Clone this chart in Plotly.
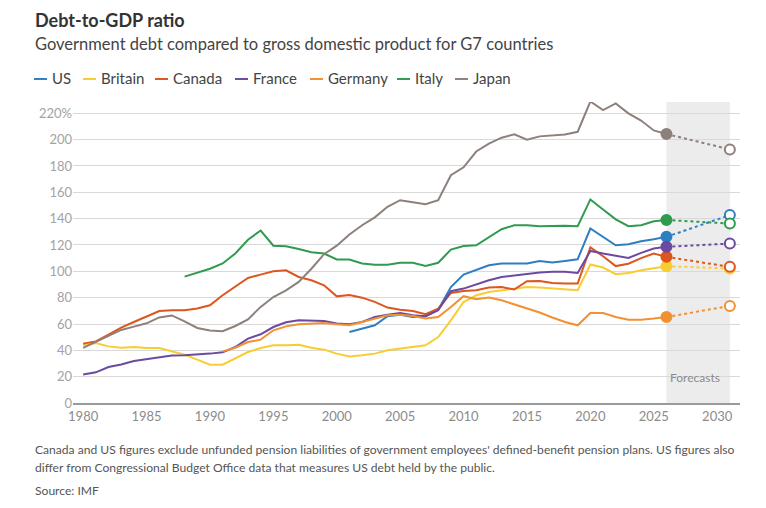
import plotly.graph_objects as go

# debt-to-GDP, % (IMF)
countries = ['US', 'Britain', 'Canada', 'France', 'Germany', 'Italy', 'Japan']
colors = ['#2f7ec1', '#f8cd32', '#dc561f', '#6b4aa0', '#f19132', '#2f9b4f', '#8e807a']

us_start = 2001
us = [53.9, 56.5, 59, 65.9, 67.1, 65.3, 65.9, 70.9, 88.1, 97.5, 101.3, 104.6, 105.9,
      105.9, 105.9, 107.9, 106.7, 107.9, 109.2, 132.5, 126.2, 119.8, 120.6, 122.9, 124.4, 126.2]

britain_start = 1980
britain = [43.8, 45.6, 43, 42, 42.5, 41.8, 41.8, 39.2, 36.7, 32.9, 29.1, 29.1, 33.7, 38.7,
           41.8, 43.8, 43.8, 44.3, 42, 40.5, 37.5, 35.4, 36.2, 37.5, 40, 41.3, 42.5, 43.8,
           50.1, 62.8, 76.7, 81.8, 84.3, 85.6, 86.9, 88.1, 87.7, 86.9, 86.2, 85.6, 105.2,
           102.9, 97.8, 98.8, 100.8, 102.1, 103.9]

canada_start = 1980
canada = [45.1, 46.8, 51.9, 57.2, 61.5, 65.9, 69.9, 70.4, 70.4, 71.7, 74.2, 81.8, 88.1, 95,
          97.5, 100, 100.8, 95.7, 93.2, 89.4, 81, 82, 80, 76.8, 72.5, 70.9, 69.9, 67.4,
          71.7, 83.6, 85.1, 85.6, 87.7, 88.1, 86.2, 92.5, 92.7, 91.2, 90.7, 90.7, 118.2,
          111.5, 104, 105.8, 110, 113.5, 111]

france_start = 1980
france = [21.7, 23.3, 27.3, 29.3, 31.9, 33.4, 34.4, 36, 36.2, 36.7, 37.5, 38.5, 42.5, 48.9,
          52.2, 57.7, 61.3, 62.8, 62.8, 62.3, 60.3, 59.8, 61.5, 65.3, 67.1, 68.4, 66.6, 65.9,
          70.4, 84.9, 86.9, 90.2, 93.2, 95.7, 97, 98.3, 99.1, 99.6, 99.6, 98.8, 115.5,
          113.5, 111.7, 110.2, 114, 117.3, 118.6]

germany_start = 1991
germany = [39.2, 42, 46.3, 48.1, 55.2, 58.2, 59.8, 60.3, 60.8, 59.8, 59, 61.5, 64.1, 66.6,
           67.1, 66.1, 64.1, 65.3, 72.9, 81.1, 78.8, 80.1, 78, 75, 71.7, 68.7, 64.9, 61.5,
           59, 68.4, 68.4, 65.3, 63.3, 63.3, 64.1, 65.3]

italy_start = 1988
italy = [96, 99, 102, 106, 113.5, 124, 131, 119.5, 119, 117, 114.5, 113.5, 109, 109, 106,
         105, 105, 106.5, 106.5, 104, 106.5, 116.5, 119.3, 119.8, 126, 132, 135, 135, 134.3,
         134.5, 134.7, 134.3, 154.6, 147, 139.5, 134.3, 135, 138, 139]

japan_start = 1980
japan = [41.8, 46.5, 51, 55.5, 58, 60.5, 65, 66.5, 62, 57, 55, 54.5, 58.5, 63.5, 73, 80.5,
         85.5, 92, 102, 113, 119.5, 128, 135, 141, 149, 154, 152.5, 151, 154, 173, 179, 191,
         197, 201.5, 204, 200, 202.5, 203.5, 204, 206, 229, 222.5, 227.5, 220, 214.5, 207,
         204.3]

forecast_year = 2031
forecast = [142.7, 102.1, 103.4, 121.1, 73.7, 136.3, 192.6]

starts = [us_start, britain_start, canada_start, france_start, germany_start, italy_start, japan_start]
series = [us, britain, canada, france, germany, italy, japan]

yticks = [0, 20, 40, 60, 80, 100, 120, 140, 160, 180, 200, 220]
ytick_text = ['0', '20', '40', '60', '80', '100', '120', '140', '160', '180', '200', '220%']
xticks = [1980, 1985, 1990, 1995, 2000, 2005, 2010, 2015, 2020, 2025, 2030]

# page body has an 8px margin, so the figure is drawn 8px smaller
W, H = 758, 500
L, T = 65, 94
PW, PH = 667, 300.6
R = W - L - PW
B = H - T - PH


def px(x):
    return (x - L) / PW


def py(y):
    return (T + PH - y) / PH


fig = go.Figure()

for name, c, s, vals, f in zip(countries, colors, starts, series, forecast):
    yrs = list(range(s, s + len(vals)))
    fig.add_trace(go.Scatter(x=yrs, y=vals, mode='lines', name=name,
                             line=dict(color=c, width=2), showlegend=False))
    # dotted projection, filled dot on last actual year, open dot on forecast
    fig.add_trace(go.Scatter(x=[yrs[-1], forecast_year], y=[vals[-1], f],
                             mode='lines+markers', showlegend=False,
                             line=dict(color=c, width=2, dash='dot'),
                             marker=dict(size=10, color=[c, 'white'],
                                         line=dict(color=c, width=2))))

# forecast band
fig.add_shape(type='rect', xref='x', yref='paper', x0=2026, x1=2031, y0=0, y1=1,
              fillcolor='#ececec', line_width=0, layer='below')
fig.add_annotation(x=2026.15, y=19.5, xref='x', yref='y', text='Forecasts',
                   showarrow=False, xanchor='left',
                   font=dict(family='Lato', size=12, color='#8a8a8a'))

# title block
fig.add_annotation(xref='paper', yref='paper', x=px(25), y=py(12),
                   text='<b>Debt-to-GDP ratio</b>', showarrow=False, xanchor='left',
                   yanchor='middle', font=dict(family='Lato', size=18, color='#333333'))
fig.add_annotation(xref='paper', yref='paper', x=px(25), y=py(36),
                   text='Government debt compared to gross domestic product for G7 countries',
                   showarrow=False, xanchor='left', yanchor='middle',
                   font=dict(family='Lato', size=16.5, color='#444444'))

# legend row: short coloured dash then name
leg_x = [26, 75, 147, 227, 302, 389, 447]
for name, c, lx in zip(countries, colors, leg_x):
    fig.add_shape(type='line', xref='paper', yref='paper', x0=px(lx), x1=px(lx + 13),
                  y0=py(71), y1=py(71), line=dict(color=c, width=2))
    fig.add_annotation(xref='paper', yref='paper', x=px(lx + 16), y=py(70),
                       text=name, showarrow=False, xanchor='left', yanchor='middle',
                       font=dict(family='Lato', size=15, color='#444444'))

# footnote
note_lines = [
    "Canada and US figures exclude unfunded pension liabilities of government employees' "
    "defined-benefit pension plans. US figures also",
    "differ from Congressional Budget Office data that measures US debt held by the public.",
    "Source: IMF",
]
for txt, ly in zip(note_lines, [441, 459, 482]):
    fig.add_annotation(xref='paper', yref='paper', x=px(25), y=py(ly),
                       text=txt, showarrow=False, xanchor='left', yanchor='middle',
                       font=dict(family='Lato', size=12.1, color='#555555'))

fig.update_layout(
    width=W, height=H,
    margin=dict(l=L, r=R, t=T, b=B),
    plot_bgcolor='white', paper_bgcolor='white',
    showlegend=False,
    xaxis=dict(range=[1979.2, 2031.8], tickvals=xticks, showgrid=False, zeroline=False,
               showline=True, linecolor='#9a9a9a', linewidth=2, ticks='',
               tickfont=dict(family='Lato', size=13, color='#8c8c8c')),
    yaxis=dict(range=[0, 228.6], tickvals=yticks, ticktext=ytick_text, showgrid=True,
               gridcolor='#d9d9d9', gridwidth=1, zeroline=False, ticks='',
               tickfont=dict(family='Lato', size=13, color='#a3a3a3')),
)

fig.write_html("out.html")
